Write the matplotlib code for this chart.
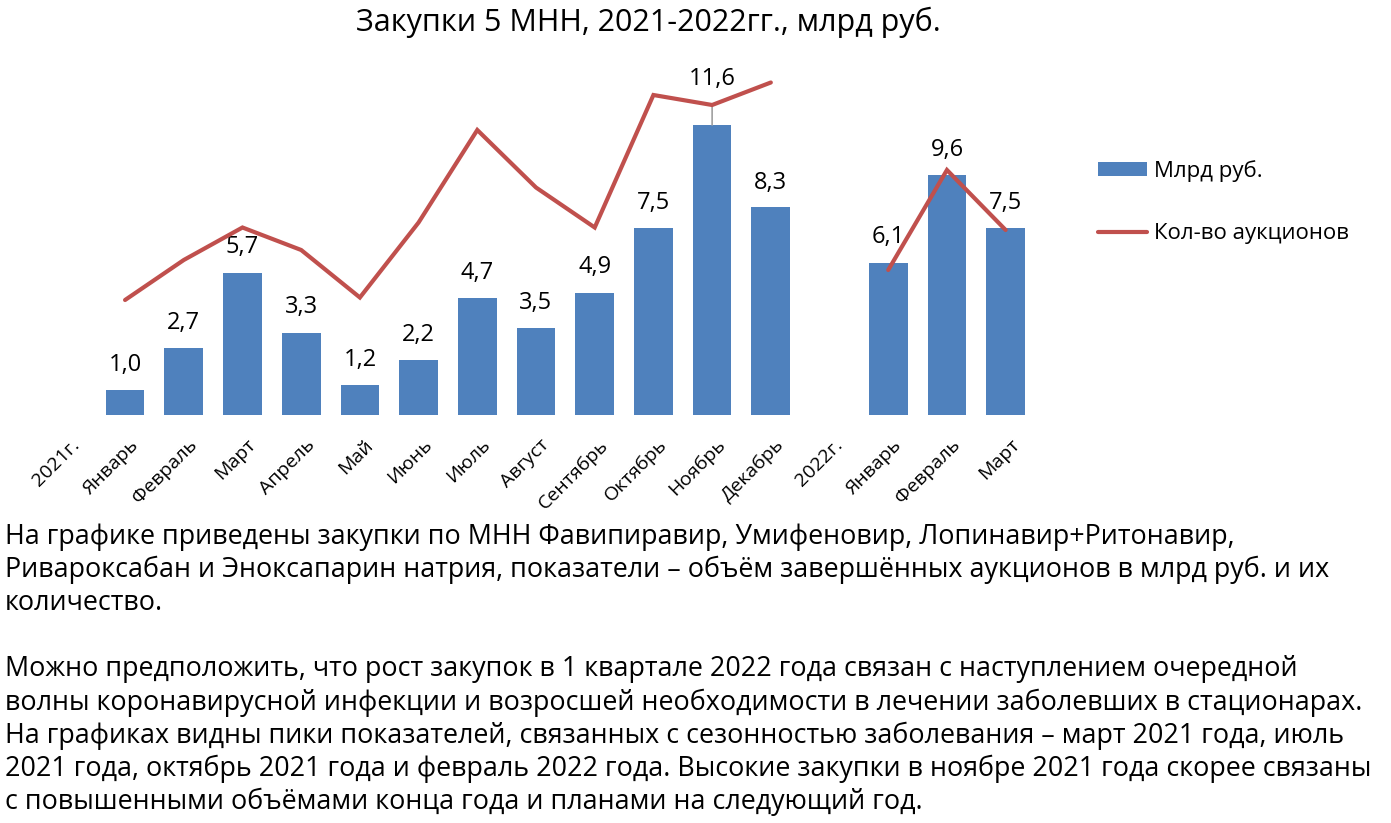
import numpy as np
import matplotlib.pyplot as plt
import matplotlib as mpl
from matplotlib.transforms import ScaledTranslation

mpl.rc('font', family='Open Sans')

# categories on the x axis (year markers have no values)
cats = ['2021г.', 'Январь', 'Февраль', 'Март', 'Апрель', 'Май', 'Июнь', 'Июль',
        'Август', 'Сентябрь', 'Октябрь', 'Ноябрь', 'Декабрь',
        '2022г.', 'Январь', 'Февраль', 'Март']

# млрд руб.
bln = [np.nan, 1.0, 2.7, 5.7, 3.3, 1.2, 2.2, 4.7, 3.5, 4.9, 7.5, 11.6, 8.3,
       np.nan, 6.1, 9.6, 7.5]

# кол-во аукционов (read off the secondary scale, estimated)
auct = [np.nan, 46, 62, 75, 66, 47, 77, 114, 91, 75, 128, 124, 133,
        np.nan, 58, 98, 74]

title = 'Закупки 5 МНН, 2021-2022гг., млрд руб.'
lines = [
    'На графике приведены закупки по МНН Фавипиравир, Умифеновир, Лопинавир+Ритонавир,',
    'Ривароксабан и Эноксапарин натрия, показатели – объём завершённых аукционов в млрд руб. и их',
    'количество.',
    '',
    'Можно предположить, что рост закупок в 1 квартале 2022 года связан с наступлением очередной',
    'волны коронавирусной инфекции и возросшей необходимости в лечении заболевших в стационарах.',
    'На графиках видны пики показателей, связанных с сезонностью заболевания – март 2021 года, июль',
    '2021 года, октябрь 2021 года и февраль 2022 года. Высокие закупки в ноябре 2021 года скорее связаны',
    'с повышенными объёмами конца года и планами на следующий год.',
]

W, H = 1391, 823
fig = plt.figure(figsize=(W / 100, H / 100), dpi=100)
ax = fig.add_axes([37 / W, 1 - 415 / H, (1035 - 37) / W, (415 - 60) / H])
ax2 = ax.twinx()

x = np.arange(len(cats))
bars = ax.bar(x, bln, width=0.66, color='#4F81BD', label='Млрд руб.')
ax2.plot(x, auct, color='#C0504D', lw=3, solid_capstyle='round',
         solid_joinstyle='miter', label='Кол-во аукционов')

ax.set_xlim(-0.5, len(cats) - 0.5)
ax.set_ylim(0, 14.2)
ax2.set_ylim(0, 142)

for a in (ax, ax2):
    for s in a.spines.values():
        s.set_visible(False)
    a.set_yticks([])
ax.tick_params(axis='x', length=0, pad=15)
ax.set_xticks(x)
ax.set_xticklabels(cats, rotation=45, ha='right', rotation_mode='anchor',
                   fontsize=14)
off = ScaledTranslation(3 / 72, 0, fig.dpi_scale_trans)
for lbl in ax.get_xticklabels():
    lbl.set_transform(lbl.get_transform() + off)

for xi, v in zip(x, bln):
    if np.isnan(v):
        continue
    txt = f'{v:.1f}'.replace('.', ',')
    if v > 11:
        ax.annotate(txt, xy=(xi, v), xytext=(0, 33), textcoords='offset points',
                    ha='center', va='center', fontsize=17,
                    arrowprops=dict(arrowstyle='-', color='#A0A0A0', lw=1.2,
                                    shrinkA=9, shrinkB=0))
    else:
        ax.annotate(txt, xy=(xi, v), xytext=(0, 18), textcoords='offset points',
                    ha='center', va='center', fontsize=17)

fig.text(648 / W, 1 - 22 / H, title, ha='center', va='center', fontsize=22)

h1, l1 = ax.get_legend_handles_labels()
h2, l2 = ax2.get_legend_handles_labels()
fig.legend(h1 + h2, l1 + l2, loc='upper left', bbox_to_anchor=(1078 / W, 1 - 140 / H),
           frameon=False, fontsize=16, labelspacing=1.85, handlelength=2.2,
           handleheight=0.6, handletextpad=0.3)

y0 = 537
for i, s in enumerate(lines):
    if s:
        fig.text(5 / W, 1 - (y0 + i * 33.1) / H, s, ha='left', va='center',
                 fontsize=19.4)

fig.savefig('out.png', dpi=100)
